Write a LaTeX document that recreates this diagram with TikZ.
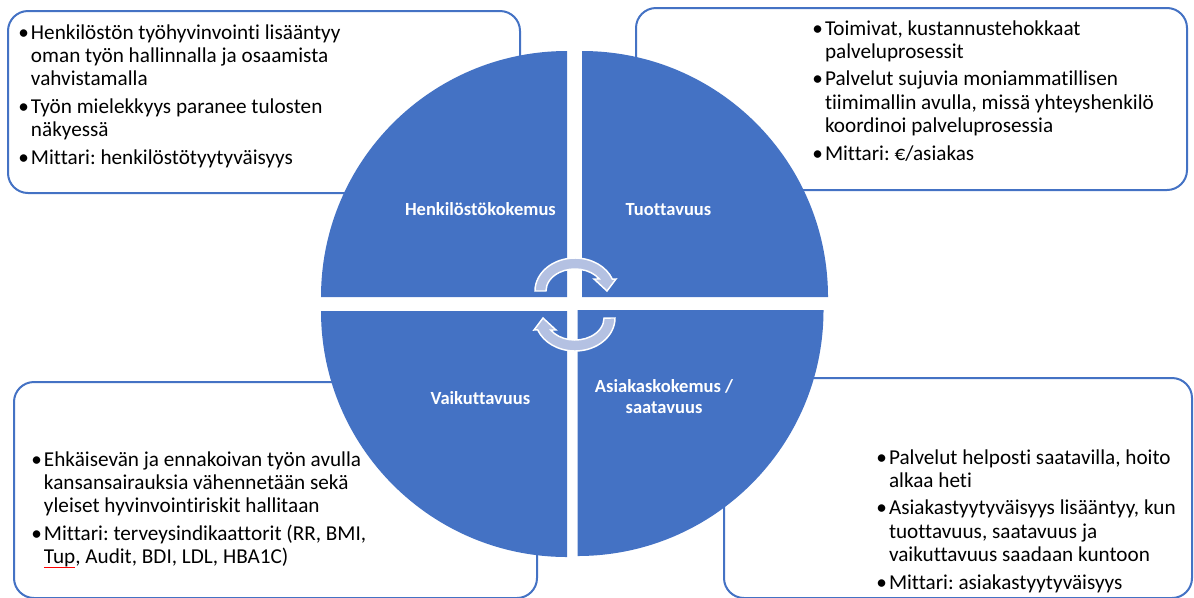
\documentclass[tikz,border=0pt]{standalone}
\usepackage{fontspec}
\setmainfont[Ligatures={NoCommon}]{Carlito}
\definecolor{qblue}{RGB}{68,114,196}
\definecolor{afill}{RGB}{180,193,226}
\newcommand{\bul}{\makebox[9.5pt][l]{•}}
\newcommand{\ind}{\hspace*{9.5pt}}
\newcommand{\redul}[1]{\rlap{\color{red}\rule[-3.2pt]{\widthof{#1}}{0.5pt}}#1}
\usepackage{calc}
\frenchspacing
\begin{document}
\frenchspacing
\begin{tikzpicture}[x=0.75pt,y=-0.75pt,
 panel/.style={draw=qblue,line width=1.5pt,fill=white,rounded corners=15pt},
 quad/.style={fill=qblue},
 cyc/.style={fill=afill,draw=white,line width=1.1pt,line join=miter},
 lab/.style={text=white,font=\fontsize{13.9}{16}\selectfont\bfseries,inner sep=0pt,outer sep=0pt},
 txt/.style={align=left,inner sep=0pt,outer sep=0pt,font=\fontsize{15.9}{17.6}\selectfont\frenchspacing,anchor=north west}]
\useasboundingbox (0,0) rectangle (1194,597);
% text panels
\draw[panel] (8,11) rectangle (520,193);
\draw[panel] (636,8) rectangle (1187,190);
\draw[panel] (14,382) rectangle (537,598);
\draw[panel] (724,378) rectangle (1192,598);
% quadrants
\fill[quad] (567,297) -- ++(-246,0) arc[start angle=180,end angle=270,radius=246] -- cycle;
\fill[quad] (582,297) -- ++(0,-246) arc[start angle=270,end angle=360,radius=246] -- cycle;
\fill[quad] (567,311) -- ++(0,246) arc[start angle=90,end angle=180,radius=246] -- cycle;
\fill[quad] (577.5,310) -- ++(246,0) arc[start angle=0,end angle=90,radius=246] -- cycle;
% cycle arrows
\begin{scope}
\filldraw[cyc] (535,291) arc[start angle=180,end angle=339,x radius=40,y radius=33]
  -- (616,279) -- (607,291) -- (594,279) -- (599.3,279)
  arc[start angle=327,end angle=180,x radius=29,y radius=22] -- cycle;
\end{scope}
\begin{scope}[rotate around={180:(575,304.5)}]
\filldraw[cyc] (535,291) arc[start angle=180,end angle=339,x radius=40,y radius=33]
  -- (616,279) -- (607,291) -- (594,279) -- (599.3,279)
  arc[start angle=327,end angle=180,x radius=29,y radius=22] -- cycle;
\end{scope}
% quadrant labels
\node[lab,anchor=base] (hk) at (480.4,215) {Henkilöstökokemus};
\node[lab,anchor=base] (tu) at (668.5,215) {Tuottavuus};
\node[lab,anchor=base] (va) at (480.4,404) {Vaikuttavuus};
\node[lab,align=center,anchor=north] (as) at (664,392-14.93) {\strut Asiakaskokemus /\\saatavuus};
% panel texts
\node[txt] (tlt) at (31-12.67,39-16.43) {\strut\bul Henkilöstön työhyvinvointi lisääntyy\\\ind oman työn hallinnalla ja osaamista\\\ind vahvistamalla\\[3pt]\bul Työn mielekkyys paranee tulosten\\\ind näkyessä\\[3pt]\bul Mittari: henkilöstötyytyväisyys};
\node[txt] (trt) at (825-12.67,35-16.43) {\strut\bul Toimivat, kustannustehokkaat\\\ind palveluprosessit\\[3pt]\bul Palvelut sujuvia moniammatillisen\\\ind tiimimallin avulla, missä yhteyshenkilö\\\ind koordinoi palveluprosessia\\[3pt]\bul Mittari: €/asiakas};
\node[txt] (blt) at (44-12.67,466-16.43) {\strut\bul Ehkäisevän ja ennakoivan työn avulla\\\ind kansansairauksia vähennetään sekä\\\ind yleiset hyvinvointiriskit hallitaan\\[3pt]\bul Mittari: terveysindikaattorit (RR, BMI,\\\ind \redul{Tup}, Audit, BDI, LDL, HBA1C)};
\node[txt] (brt) at (889-12.67,464-16.43) {\strut\bul Palvelut helposti saatavilla, hoito\\\ind alkaa heti\\[3pt]\bul Asiakastyytyväisyys lisääntyy, kun\\\ind tuottavuus, saatavuus ja\\\ind vaikuttavuus saadaan kuntoon\\[3pt]\bul Mittari: asiakastyytyväisyys};
\end{tikzpicture}
\end{document}
